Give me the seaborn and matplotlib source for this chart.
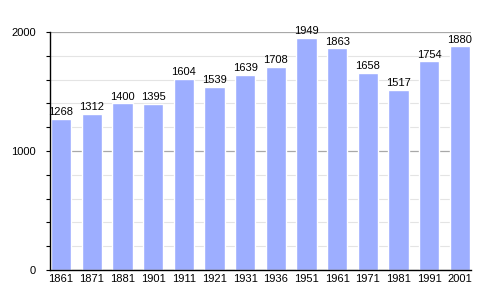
import matplotlib
matplotlib.use("Agg")
import matplotlib.pyplot as plt
import seaborn as sns
import pandas as pd
from matplotlib.ticker import MultipleLocator

years = ["1861", "1871", "1881", "1901", "1911", "1921", "1931", "1936",
         "1951", "1961", "1971", "1981", "1991", "2001"]
population = [1268, 1312, 1400, 1395, 1604, 1539, 1639, 1708,
              1949, 1863, 1658, 1517, 1754, 1880]

df = pd.DataFrame({"year": years, "pop": population})

sns.set_style("white", {"text.color": "black", "xtick.color": "black",
                        "ytick.color": "black"})
plt.rcParams['font.family'] = ['Liberation Sans', 'DejaVu Sans']

fig = plt.figure(figsize=(5, 3), dpi=100)
ax = fig.add_axes([0.1, 0.1, 0.842, 0.793])

sns.barplot(data=df, x="year", y="pop", color="#9DAEFF", saturation=1,
            width=0.66, ax=ax, zorder=3)

ax.set_ylim(0, 2000)
ax.set_xlim(-0.36, 13.36)
ax.yaxis.set_major_locator(MultipleLocator(1000))
ax.yaxis.set_minor_locator(MultipleLocator(200))
ax.grid(which="major", axis="y", color="#a8a8a8", linewidth=0.9, zorder=0)
ax.grid(which="minor", axis="y", color="#e4e4e4", linewidth=0.8, zorder=0)
ax.set_axisbelow(True)

for s in ["top", "right"]:
    ax.spines[s].set_visible(False)
for s in ["left", "bottom"]:
    ax.spines[s].set_color("black")
    ax.spines[s].set_linewidth(1.0)
    ax.spines[s].set_zorder(5)

ax.tick_params(axis="y", which="both", direction="out", length=3, width=0.8,
               color="black", labelcolor="black", left=True, labelsize=8, pad=7)
ax.tick_params(axis="x", which="both", length=0, labelsize=8, pad=3,
               labelcolor="black")
ax.set_xlabel("")
ax.set_ylabel("")

for i, v in enumerate(population):
    ax.text(i, v + 15, str(v), ha="center", va="bottom", fontsize=8,
            color="black")

fig.savefig("out.png", dpi=100)
